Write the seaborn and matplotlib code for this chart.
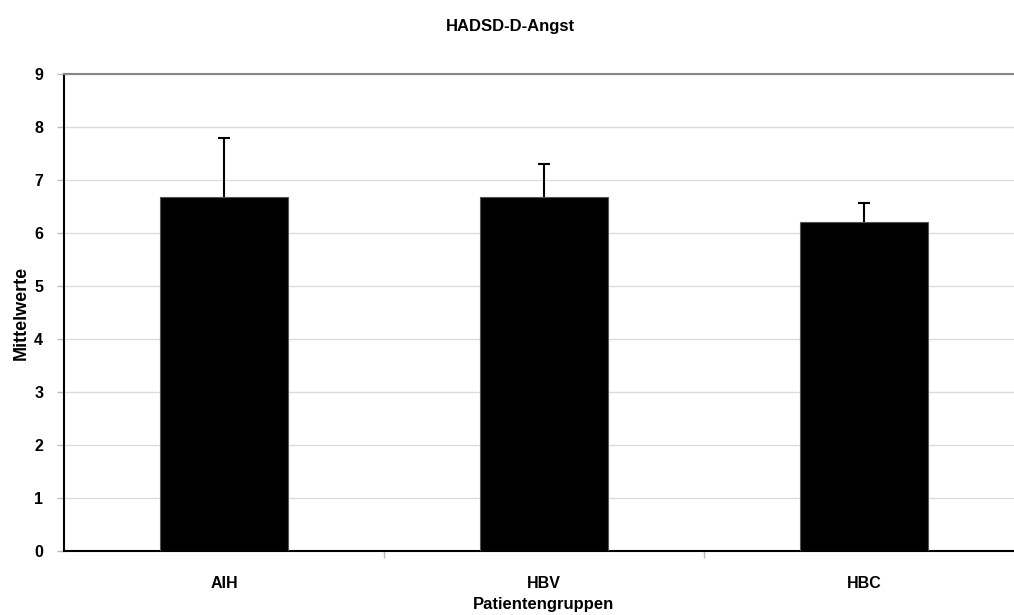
import numpy as np
import pandas as pd
import seaborn as sns
import matplotlib.pyplot as plt
from matplotlib.ticker import MultipleLocator, FixedLocator

groups = ["AIH", "HBV", "HBC"]
means = [6.68, 6.67, 6.20]
upper = [7.79, 7.31, 6.56]

df = pd.DataFrame({"gruppe": groups, "wert": means})

sns.set_theme(style="white")
plt.rcParams["font.family"] = ["Liberation Sans", "DejaVu Sans"]
plt.rcParams["font.weight"] = "bold"
plt.rcParams["text.color"] = "black"
plt.rcParams["axes.labelcolor"] = "black"
plt.rcParams["xtick.labelcolor"] = "black"
plt.rcParams["ytick.labelcolor"] = "black"

fig = plt.figure(figsize=(10.14, 6.15), dpi=100)
ax = fig.add_axes([64 / 1014, 64 / 615, 960 / 1014, 477 / 615])

sns.barplot(data=df, x="gruppe", y="wert", color="black", width=0.4,
            saturation=1, errorbar=None, ax=ax)
for p in ax.patches:
    p.set_edgecolor("#555555")
    p.set_linewidth(0.8)
    p.set_zorder(4)

err = np.array(upper) - np.array(means)
_, caps, _ = ax.errorbar(np.arange(len(groups)), means,
                         yerr=[np.zeros(len(groups)), err],
                         fmt="none", ecolor="black", elinewidth=1.5,
                         capsize=4, capthick=1.5, zorder=3)
# keep only the upper caps
for c in caps:
    if np.allclose(c.get_ydata(), means):
        c.set_visible(False)

ax.set_ylim(0, 9)
ax.set_xlim(-0.5, 2.5)
ax.yaxis.set_major_locator(MultipleLocator(1))
ax.grid(axis="y", color="#dcdcdc", linewidth=1, zorder=0)
ax.set_axisbelow(True)

ax.xaxis.set_minor_locator(FixedLocator([0.5, 1.5]))
ax.tick_params(axis="x", which="major", length=0, pad=18, labelsize=11.5)
ax.tick_params(axis="x", which="minor", length=5, width=1, color="#bbbbbb",
               direction="out", bottom=True)
ax.tick_params(axis="y", which="major", length=5, width=1, color="#bbbbbb",
               direction="out", left=True, pad=10, labelsize=11.5)
for lbl in ax.get_xticklabels() + ax.get_yticklabels():
    lbl.set_fontweight("bold")

for side in ["left", "bottom"]:
    ax.spines[side].set_color("black")
    ax.spines[side].set_linewidth(1.5)
ax.spines["top"].set_color("#888888")
ax.spines["top"].set_linewidth(1.5)
ax.spines["right"].set_visible(False)

ax.set_xlabel("Patientengruppen", fontsize=12, fontweight="bold", labelpad=4.5)
ax.set_ylabel("Mittelwerte", fontsize=13, fontweight="bold", labelpad=3)

fig.text(510 / 1014, 1 - 26 / 615, "HADSD-D-Angst", ha="center", va="center",
         fontsize=12, fontweight="bold")

fig.savefig("out.png", dpi=100)
